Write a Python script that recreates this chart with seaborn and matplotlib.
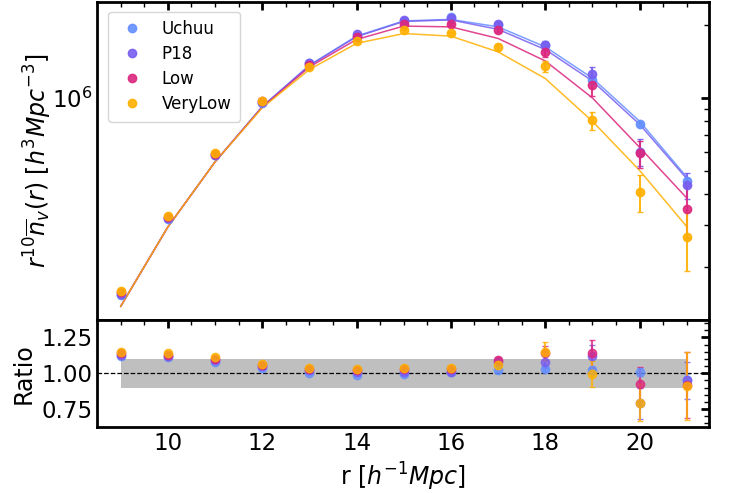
import numpy as np
import pandas as pd
import matplotlib
matplotlib.use("Agg")
import matplotlib.pyplot as plt
import seaborn as sns
from matplotlib.ticker import AutoMinorLocator, NullFormatter, LogLocator
from matplotlib.lines import Line2D

# ---------------- data ----------------
r = [9, 10, 11, 12, 13, 14, 15, 16, 17, 18, 19, 20, 21]
samples = ["Uchuu", "P18", "Low", "VeryLow"]
colors = ["#648FFF", "#785EF0", "#DC267F", "#FFB000"]

# model curves
model_uchuu = [1.377e5, 2.93e5, 5.44e5, 9.2e5, 1.365e6, 1.80e6, 2.08e6, 2.11e6, 1.966e6, 1.626e6, 1.207e6, 8.01e5, 4.71e5]
model_p18 = [1.377e5, 2.93e5, 5.44e5, 9.2e5, 1.36e6, 1.79e6, 2.07e6, 2.10e6, 1.92e6, 1.585e6, 1.175e6, 7.78e5, 4.64e5]
model_low = [1.377e5, 2.93e5, 5.44e5, 9.15e5, 1.343e6, 1.744e6, 1.98e6, 1.966e6, 1.761e6, 1.422e6, 1.0e6, 6.25e5, 3.86e5]
model_verylow = [1.377e5, 2.93e5, 5.44e5, 9.1e5, 1.31e6, 1.68e6, 1.845e6, 1.80e6, 1.55e6, 1.203e6, 8.01e5, 5.02e5, 2.94e5]

# measured points
pts_uchuu = [1.54e5, 3.17e5, 5.79e5, 9.55e5, 1.39e6, 1.80e6, 2.08e6, 2.15e6, 2.0e6, 1.66e6, 1.19e6, 7.8e5, 4.52e5]
pts_p18 = [1.555e5, 3.20e5, 5.84e5, 9.6e5, 1.40e6, 1.83e6, 2.09e6, 2.13e6, 2.02e6, 1.65e6, 1.254e6, 6.0e5, 4.36e5]
pts_low = [1.575e5, 3.23e5, 5.89e5, 9.7e5, 1.37e6, 1.785e6, 2.02e6, 2.02e6, 1.91e6, 1.549e6, 1.128e6, 5.9e5, 3.49e5]
pts_verylow = [1.60e5, 3.27e5, 5.94e5, 9.75e5, 1.345e6, 1.72e6, 1.91e6, 1.86e6, 1.625e6, 1.352e6, 8.09e5, 4.08e5, 2.66e5]

err_uchuu = [2e3, 3e3, 4e3, 5e3, 6e3, 7e3, 8e3, 1e4, 1.5e4, 2e4, 2e4, 1.5e4, 1.5e4]
err_p18 = [2e3, 3e3, 4e3, 5e3, 6e3, 7e3, 8e3, 1e4, 4e4, 6.5e4, 8.5e4, 7.5e4, 5.5e4]
err_low = [2e3, 3e3, 4e3, 5e3, 6e3, 7e3, 8e3, 1e4, 3e4, 7.5e4, 1.08e5, 7.7e4, 8.4e4]
err_verylow = [2e3, 3e3, 4e3, 5e3, 6e3, 7e3, 8e3, 1e4, 4.7e4, 7.3e4, 7.0e4, 7.1e4, 7.3e4]

# ratios
ratio_uchuu = [1.12, 1.11, 1.08, 1.04, 1.005, 0.99, 0.995, 1.01, 1.02, 1.03, 1.02, 1.01, 0.955]
ratio_p18 = [1.13, 1.12, 1.09, 1.05, 1.02, 1.01, 1.01, 1.01, 1.08, 1.08, 1.12, 0.79, 0.95]
ratio_low = [1.14, 1.13, 1.10, 1.06, 1.03, 1.025, 1.03, 1.03, 1.095, 1.14, 1.14, 0.925, 0.92]
ratio_verylow = [1.15, 1.14, 1.11, 1.065, 1.035, 1.03, 1.04, 1.04, 1.06, 1.15, 0.995, 0.795, 0.91]

rerr_uchuu = [0.01] * 8 + [0.01, 0.015, 0.02, 0.03, 0.04]
rerr_p18 = [0.01] * 8 + [0.025, 0.045, 0.08, 0.11, 0.13]
rerr_low = [0.01] * 8 + [0.02, 0.05, 0.095, 0.12, 0.23]
rerr_verylow = [0.01] * 8 + [0.03, 0.065, 0.093, 0.13, 0.235]

models = [model_uchuu, model_p18, model_low, model_verylow]
points = [pts_uchuu, pts_p18, pts_low, pts_verylow]
errs = [err_uchuu, err_p18, err_low, err_verylow]
ratios = [ratio_uchuu, ratio_p18, ratio_low, ratio_verylow]
rerrs = [rerr_uchuu, rerr_p18, rerr_low, rerr_verylow]

# ---------------- style ----------------
sns.set_style("white")
plt.rcParams["font.family"] = ["DejaVu Sans"]
plt.rcParams["mathtext.fontset"] = "dejavusans"
for k in ["text.color", "axes.labelcolor", "xtick.color", "ytick.color", "axes.edgecolor"]:
    plt.rcParams[k] = "black"

W, H = 732, 493
fig = plt.figure(figsize=(W / 100, H / 100), dpi=100)
ax1 = fig.add_axes([97 / W, 1 - 319.5 / H, 612 / W, 317.5 / H])
ax2 = fig.add_axes([97 / W, 1 - 427 / H, 612 / W, 107.5 / H], sharex=ax1)

# model lines with seaborn
df_model = pd.DataFrame({
    "r": r * 4,
    "val": model_uchuu + model_p18 + model_low + model_verylow,
    "sample": sum([[s] * len(r) for s in samples], []),
})
ax1.set_yscale("log")
sns.lineplot(data=df_model, x="r", y="val", hue="sample", palette=colors,
             hue_order=samples, ax=ax1, legend=False, linewidth=1.1, alpha=0.85)

for pts, e, c in zip(points, errs, colors):
    ax1.errorbar(r, pts, yerr=e, fmt="o", color=c, ms=6, capsize=2,
                 elinewidth=1.5, capthick=1, alpha=0.9, zorder=3)

ax1.set_ylim(1.217e5, 2.49e6)
ax1.set_xlim(8.5, 21.47)
ax1.set_ylabel(r"$r^{10}\overline{n}_v(r)$ [$h^3Mpc^{-3}$]", fontsize=17)
ax1.set_xlabel("")
ax1.yaxis.set_major_locator(LogLocator(base=10))
ax1.yaxis.set_minor_locator(LogLocator(base=10, subs=np.arange(2, 10)))
ax1.yaxis.set_minor_formatter(NullFormatter())
plt.setp(ax1.get_xticklabels(), visible=False)

handles = [Line2D([], [], marker="o", ls="none", color=c, ms=6, alpha=0.9) for c in colors]
ax1.legend(handles, samples, loc="upper left", fontsize=12, frameon=True,
           handlelength=1.8, handletextpad=0.9, borderpad=0.5, labelspacing=0.42,
           bbox_to_anchor=(0.005, 0.995))

# ratio panel
ax2.fill_between(r, 0.9, 1.1, color="grey", alpha=0.5, linewidth=0)
ax2.axhline(1.0, color="black", ls="--", lw=0.9)
for rat, e, c in zip(ratios, rerrs, colors):
    ax2.errorbar(r, rat, yerr=e, fmt="o", color=c, ms=6, capsize=2,
                 elinewidth=1.5, capthick=1, alpha=0.8, zorder=3)
ax2.set_ylim(0.625, 1.375)
ax2.set_yticks([0.75, 1.0, 1.25])
ax2.yaxis.set_minor_locator(AutoMinorLocator(5))
ax2.set_ylabel("Ratio", fontsize=17)
ax2.set_xlabel(r"r [$h^{-1}Mpc$]", fontsize=17)
ax2.set_xticks([10, 12, 14, 16, 18, 20])
ax2.xaxis.set_minor_locator(AutoMinorLocator(4))

for ax in (ax1, ax2):
    for sp in ax.spines.values():
        sp.set_linewidth(2)
        sp.set_color("black")
    ax.tick_params(which="both", direction="in", top=True, right=True, colors="black")
    ax.tick_params(which="major", length=6, width=2, labelsize=16.5)
    ax.tick_params(which="minor", length=3.5, width=1)

ax1.yaxis.set_label_coords(-0.07, 0.5)
ax2.yaxis.set_label_coords(-0.1, 0.5)

fig.savefig("out.png", dpi=100)
